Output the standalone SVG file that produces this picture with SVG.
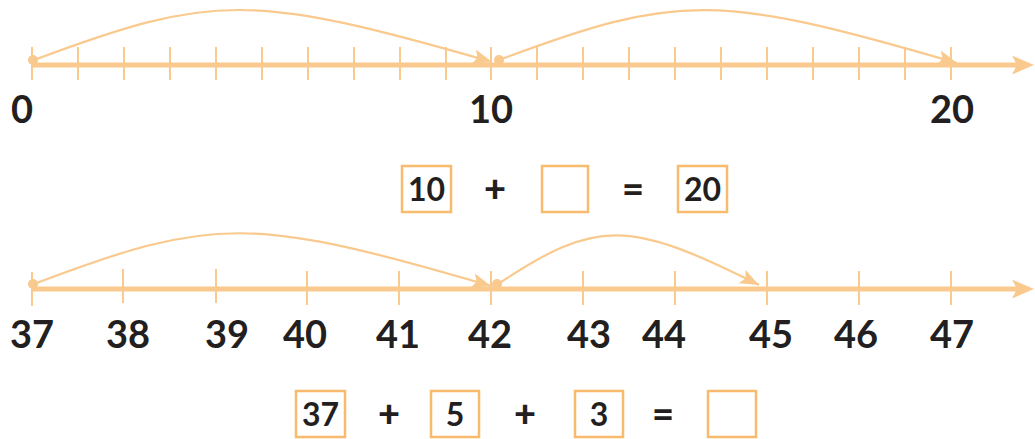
<svg xmlns="http://www.w3.org/2000/svg" width="1035" height="439" viewBox="0 0 1035 439">
<style>
.axis{stroke:#F9C98D;stroke-width:5;fill:none}
.tick{stroke:#F9C98D;stroke-width:2}
.arc{stroke:#F9C98D;stroke-width:2.2;fill:none}
.dot{fill:#F9C98D}
.head{fill:#F9C98D}
.lbl{font-family:Lato,"Liberation Sans",sans-serif;font-weight:bold;font-size:38px;fill:#231F20;text-anchor:middle}
.eq{font-family:Lato,"Liberation Sans",sans-serif;font-weight:bold;font-size:32px;fill:#231F20;text-anchor:middle}
.op{font-family:Lato,"Liberation Sans",sans-serif;font-weight:900;font-size:38px;fill:#231F20;text-anchor:middle}
.box{fill:#fff;stroke:#F8BA6C;stroke-width:2.5}
</style>
<defs>
<marker id="ah" markerUnits="userSpaceOnUse" markerWidth="22" markerHeight="16" refX="19" refY="7.5" orient="auto">
<path d="M0,0 L19,7.5 L0,15 L4,7.5 Z" fill="#F9C98D"/>
</marker>
</defs>

<g id="numberline-top">
<line class="axis" x1="32" y1="65" x2="1018" y2="65"/>
<path class="head" d="M1012,55.5 L1034,65 L1012,74.5 L1017,65 Z"/>
<g class="tick">
<line x1="32" y1="47" x2="32" y2="80"/><line x1="78" y1="47" x2="78" y2="80"/><line x1="124" y1="47" x2="124" y2="80"/><line x1="170" y1="47" x2="170" y2="80"/><line x1="216" y1="47" x2="216" y2="80"/><line x1="262" y1="47" x2="262" y2="80"/><line x1="308" y1="47" x2="308" y2="80"/><line x1="354" y1="47" x2="354" y2="80"/><line x1="400" y1="47" x2="400" y2="80"/><line x1="446" y1="47" x2="446" y2="80"/><line x1="491" y1="47" x2="491" y2="80"/><line x1="537" y1="47" x2="537" y2="80"/><line x1="583" y1="47" x2="583" y2="80"/><line x1="629" y1="47" x2="629" y2="80"/><line x1="675" y1="47" x2="675" y2="80"/><line x1="721" y1="47" x2="721" y2="80"/><line x1="767" y1="47" x2="767" y2="80"/><line x1="813" y1="47" x2="813" y2="80"/><line x1="859" y1="47" x2="859" y2="80"/><line x1="905" y1="47" x2="905" y2="80"/><line x1="951" y1="47" x2="951" y2="80"/>
</g>
<circle class="dot" cx="33" cy="60" r="5"/>
<circle class="dot" cx="499" cy="60" r="5"/>
<text class="lbl" x="22" y="123">0</text>
<text class="lbl" x="491" y="123">10</text>
<text class="lbl" x="952" y="123">20</text>
</g>

<g id="numberline-bottom">
<line class="axis" x1="32" y1="289" x2="1018" y2="289"/>
<path class="head" d="M1012,279.5 L1034,289 L1012,298.5 L1017,289 Z"/>
<g class="tick">
<line x1="32" y1="272" x2="32" y2="306"/><line x1="123" y1="269" x2="123" y2="303"/><line x1="216" y1="269" x2="216" y2="303"/><line x1="307" y1="271" x2="307" y2="305"/><line x1="399" y1="271" x2="399" y2="305"/><line x1="491" y1="271" x2="491" y2="305"/><line x1="583" y1="271" x2="583" y2="305"/><line x1="675" y1="271" x2="675" y2="305"/><line x1="767" y1="271" x2="767" y2="305"/><line x1="859" y1="271" x2="859" y2="305"/><line x1="951" y1="271" x2="951" y2="305"/>
</g>
<circle class="dot" cx="33" cy="284" r="5"/>
<circle class="dot" cx="497" cy="284" r="5"/>
<text class="lbl" x="32" y="348">37</text>
<text class="lbl" x="128" y="348">38</text>
<text class="lbl" x="227" y="348">39</text>
<text class="lbl" x="305" y="348">40</text>
<text class="lbl" x="398" y="348">41</text>
<text class="lbl" x="490" y="348">42</text>
<text class="lbl" x="589" y="348">43</text>
<text class="lbl" x="664" y="348">44</text>
<text class="lbl" x="771" y="348">45</text>
<text class="lbl" x="856" y="348">46</text>
<text class="lbl" x="952" y="348">47</text>
</g>

<g id="connectors">
<path class="arc" d="M34,60 C213,-7 252,-7 492,62" marker-end="url(#ah)"/>
<path class="arc" d="M499,60 C678,-7 717,-7 957,63" marker-end="url(#ah)"/>
<path class="arc" d="M34,284 C213,216 252,216 491,286" marker-end="url(#ah)"/>
<path class="arc" d="M498,284 C596,219 628,219 759,285" marker-end="url(#ah)"/>
</g>

<g id="equation-1">
<g id="box-10"><rect class="box" x="402" y="166" width="49" height="46"/><text class="eq" x="426.5" y="201">10</text></g>
<text class="op" x="495" y="202">+</text>
<g id="box-blank-1"><rect class="box" x="542" y="166" width="46" height="46"/></g>
<text class="op" x="633" y="202">=</text>
<g id="box-20"><rect class="box" x="678" y="166" width="49" height="46"/><text class="eq" x="702.5" y="201">20</text></g>
</g>

<g id="equation-2">
<g id="box-37"><rect class="box" x="296" y="391" width="49" height="46"/><text class="eq" x="320.5" y="426">37</text></g>
<text class="op" x="389" y="427">+</text>
<g id="box-5"><rect class="box" x="431" y="391" width="48" height="46"/><text class="eq" x="455" y="426">5</text></g>
<text class="op" x="525" y="427">+</text>
<g id="box-3"><rect class="box" x="575" y="391" width="48" height="46"/><text class="eq" x="599" y="426">3</text></g>
<text class="op" x="663" y="427">=</text>
<g id="box-blank-2"><rect class="box" x="708" y="391" width="48" height="46"/></g>
</g>
</svg>
